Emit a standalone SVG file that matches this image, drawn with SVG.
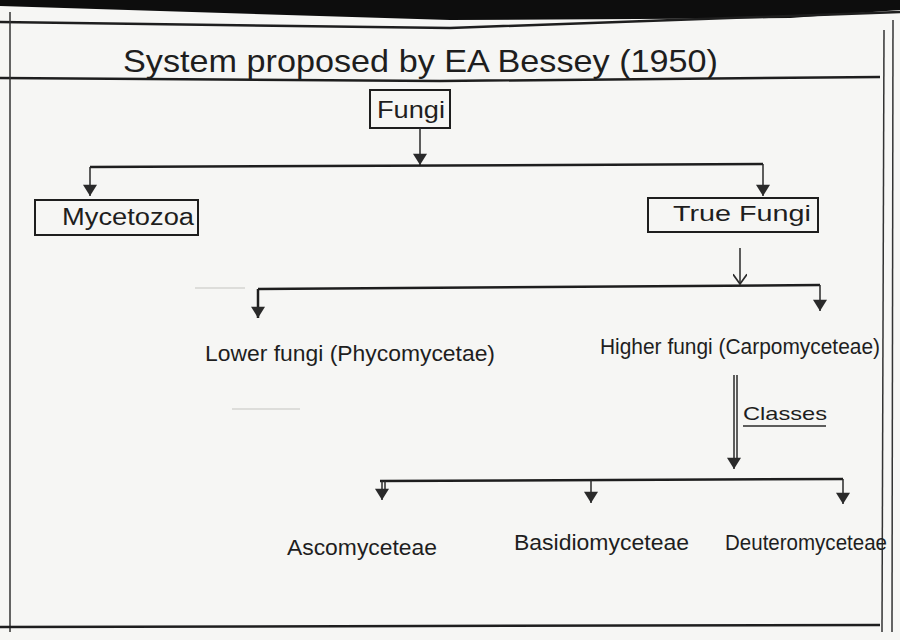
<svg xmlns="http://www.w3.org/2000/svg" width="900" height="640" viewBox="0 0 900 640">
<defs>
<marker id="tri" viewBox="0 0 10 10" refX="9" refY="5" markerWidth="14" markerHeight="14" markerUnits="userSpaceOnUse" orient="auto">
<path d="M1,0 L9,5 L1,10 Z" fill="#2a2a2a"/>
</marker>
<marker id="vee" viewBox="0 0 10 10" refX="9" refY="5" markerWidth="14" markerHeight="14" markerUnits="userSpaceOnUse" orient="auto">
<path d="M2,0 L9,5 L2,10" fill="none" stroke="#2a2a2a" stroke-width="1.2"/>
</marker>
<style>
.t{font-family:"Liberation Sans","DejaVu Sans",sans-serif;fill:#1e1e1e}
.ln{stroke:#1e1e1e;fill:none;stroke-width:2.5}
.th{stroke:#2a2a2a;fill:none;stroke-width:1.5}
.fr{stroke:#333;fill:none;stroke-width:1.5}
.bx{stroke:#1e1e1e;fill:none;stroke-width:2}
.faint{stroke:#d4d4d2;fill:none;stroke-width:1.5}
</style>
</defs>
<rect width="900" height="640" fill="#f6f6f4"/>
<polygon points="0,0 900,0 900,10 790,18 450,20 0,6" fill="#0d0d0d"/>
<g id="frame">
<path class="ln" d="M0,22 L450,28 L900,12"/>
<path class="ln" d="M0,78 L440,81 L880,77"/>
<path class="fr" d="M10,12 L10,632"/>
<path class="fr" d="M884,30 L882,632"/>
<path class="fr" d="M893,20 L892,632"/>
<path class="ln" d="M0,627 L880,625"/>
<path class="faint" d="M195,288 L245,288"/>
<path class="faint" d="M232,409 L300,409"/>
</g>
<text class="t" x="123" y="72" font-size="32" textLength="595" lengthAdjust="spacingAndGlyphs">System proposed by EA Bessey (1950)</text>
<g id="fungi">
<rect class="bx" x="370" y="90" width="80" height="38"/>
<text class="t" x="377" y="118" font-size="24" textLength="68" lengthAdjust="spacingAndGlyphs">Fungi</text>
</g>
<g id="mycetozoa">
<rect class="bx" x="35" y="200" width="163" height="35"/>
<text class="t" x="62" y="225" font-size="23" textLength="132" lengthAdjust="spacingAndGlyphs">Mycetozoa</text>
</g>
<g id="truefungi">
<rect class="bx" x="648" y="198" width="170" height="34"/>
<text class="t" x="673" y="221" font-size="22" textLength="138" lengthAdjust="spacingAndGlyphs">True Fungi</text>
</g>
<g id="lowerfungi">
<text class="t" x="205" y="361" font-size="22" textLength="290" lengthAdjust="spacingAndGlyphs">Lower fungi (Phycomycetae)</text>
</g>
<g id="higherfungi">
<text class="t" x="600" y="354" font-size="22" textLength="280" lengthAdjust="spacingAndGlyphs">Higher fungi (Carpomyceteae)</text>
</g>
<g id="ascomyceteae">
<text class="t" x="287" y="555" font-size="22" textLength="150" lengthAdjust="spacingAndGlyphs">Ascomyceteae</text>
</g>
<g id="basidiomyceteae">
<text class="t" x="514" y="550" font-size="22" textLength="175" lengthAdjust="spacingAndGlyphs">Basidiomyceteae</text>
</g>
<g id="deuteromyceteae">
<text class="t" x="725" y="550" font-size="22" textLength="162" lengthAdjust="spacingAndGlyphs">Deuteromyceteae</text>
</g>
<g id="connectors">
<path class="th" d="M420,128 L420,165" marker-end="url(#tri)"/>
<path class="ln" d="M90,167 L763,164"/>
<path class="th" d="M90,167 L90,196" marker-end="url(#tri)"/>
<path class="th" d="M763,164 L763,196" marker-end="url(#tri)"/>
<path class="th" d="M740,248 L740,284" marker-end="url(#vee)"/>
<path class="ln" d="M258,289 L820,285"/>
<path class="ln" d="M258,289 L258,318" marker-end="url(#tri)"/>
<path class="th" d="M820,285 L820,311" marker-end="url(#tri)"/>
<path class="th" d="M734,375 L734,469" marker-end="url(#tri)"/>
<path class="th" d="M737,375 L737,460"/>
<path class="ln" d="M380,481 L843,479"/>
<path class="th" d="M382,481 L382,500" marker-end="url(#tri)"/>
<path class="th" d="M385,481 L385,494"/>
<path class="th" d="M591,480 L591,503" marker-end="url(#tri)"/>
<path class="th" d="M843,479 L843,504" marker-end="url(#tri)"/>
<text class="t" x="743" y="420" font-size="19" textLength="84" lengthAdjust="spacingAndGlyphs">Classes</text>
<path class="th" stroke-width="1" d="M743,426 L826,426"/>
</g>
</svg>
